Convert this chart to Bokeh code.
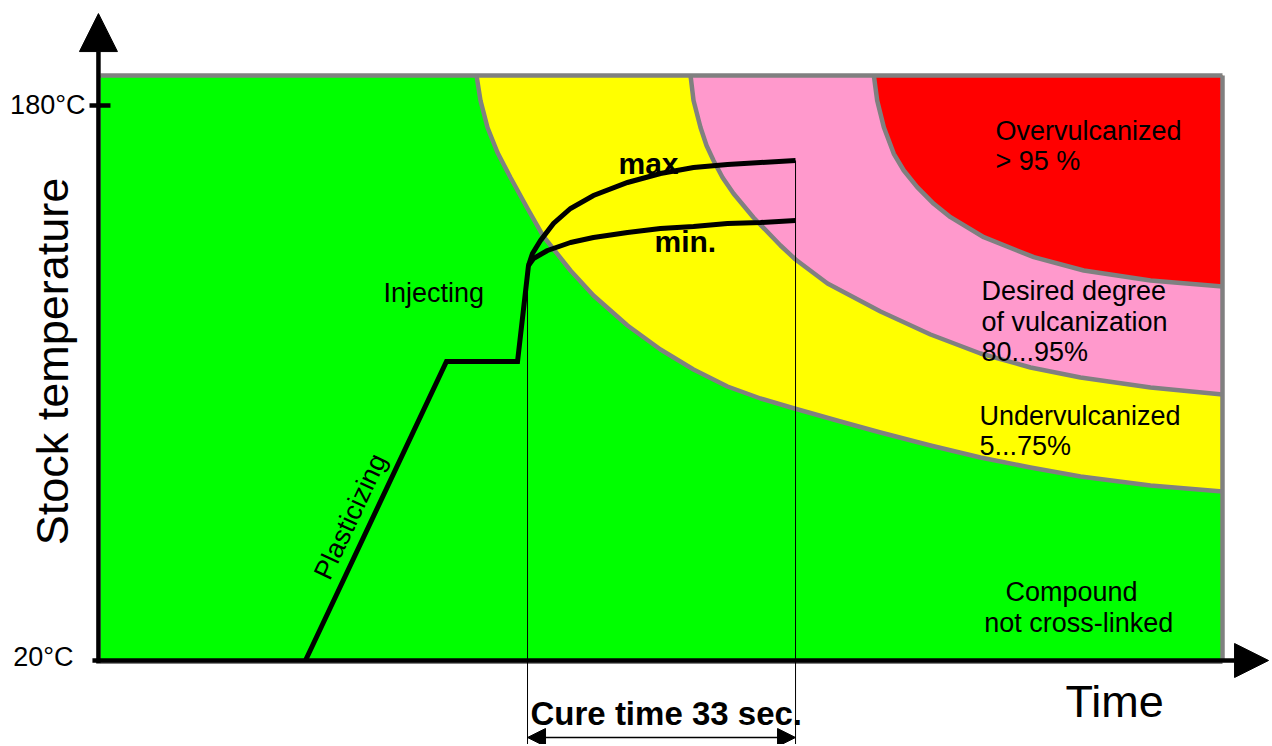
from bokeh.plotting import figure
from bokeh.models import Range1d, Arrow, NormalHead
from bokeh.embed import file_html
from bokeh.resources import INLINE
from bokeh.core.properties import value

# ---------------- data: time in s, stock temperature in degC ----------------
T_LOW = 20
T_HIGH = 180
tick_temps = [20, 180]
tick_labels = ["20°C", "180°C"]
t_end = 138.15      # right edge of the diagram (time)
T_top = 188.65      # top edge of the diagram (temperature)

# boundary: not cross-linked / undervulcanized
under_t = [46.30, 46.79, 47.65, 48.88, 50.48, 52.58, 54.55, 57.87, 60.70, 64.89, 68.95,
           73.02, 77.20, 81.27, 85.45, 91.12, 96.04, 102.20, 108.35, 114.51, 120.67,
           129.29, 138.15]
under_T = [188.65, 181.44, 173.66, 166.45, 159.24, 150.31, 142.23, 132.43, 125.22, 116.58,
           109.66, 103.89, 98.99, 95.53, 92.65, 88.90, 85.73, 81.98, 78.52, 75.64, 73.04,
           70.45, 68.72]
# boundary: undervulcanized / desired degree
desired_t = [72.65, 73.02, 73.88, 74.62, 75.48, 76.59, 77.94, 80.40, 83.73, 85.58, 89.52,
             96.04, 102.20, 108.35, 114.51, 120.67, 129.29, 138.15]
desired_T = [188.65, 181.44, 173.66, 168.47, 164.14, 159.24, 154.63, 147.71, 139.64, 135.60,
             128.68, 120.61, 113.98, 108.50, 104.47, 101.59, 98.70, 96.68]
# boundary: desired degree / overvulcanized
over_t = [95.22, 95.63, 96.45, 97.68, 98.91, 100.56, 102.60, 104.66, 108.76, 114.92,
          121.07, 129.29, 138.15]
over_T = [188.65, 181.44, 173.74, 166.08, 161.26, 156.45, 151.66, 147.80, 142.03, 136.27,
          132.43, 129.55, 127.82]

# process: plasticizing, dwell, injecting
process_t = [25.24, 42.60, 51.35, 52.70]
process_T = [20.0, 106.2, 106.2, 133.87]
# curing, max / min stock temperature
max_t = [52.70, 53.19, 54.18, 55.78, 57.87, 60.70, 64.89, 68.95, 73.02, 77.20, 81.27, 85.58]
max_T = [133.87, 137.33, 141.08, 145.98, 150.31, 154.05, 157.80, 160.40, 162.13, 162.99, 163.57, 164.14]
min_t = [52.70, 53.32, 55.04, 57.87, 60.70, 64.89, 68.95, 73.02, 77.20, 81.27, 85.58]
min_T = [133.87, 135.89, 138.20, 140.50, 141.95, 143.39, 144.54, 145.12, 145.98, 146.27, 146.85]

cure_start = 52.58
cure_time = 33

GREEN, YELLOW, PINK, RED, GREY = "#00FF00", "#FFFF00", "#FF99CC", "#FF0000", "#808080"
FONT = value("Liberation Sans")

p = figure(width=1270, height=744,
           x_range=Range1d(-12.31, 144.06), y_range=Range1d(-4.22, 210.27),
           x_axis_type=None, y_axis_type=None,
           toolbar_location=None, output_backend="svg",
           min_border=0, outline_line_color=None)
p.background_fill_color = "white"
p.border_fill_color = "white"

# zones
p.quad(left=0, right=t_end, bottom=T_LOW, top=T_top, fill_color=GREEN, line_color=None)
p.patch(under_t + [t_end], under_T + [T_top], fill_color=YELLOW, line_color=None)
p.patch(desired_t + [t_end], desired_T + [T_top], fill_color=PINK, line_color=None)
p.patch(over_t + [t_end], over_T + [T_top], fill_color=RED, line_color=None)

# zone borders
for bx, by in [(under_t, under_T), (desired_t, desired_T), (over_t, over_T)]:
    p.line(bx, by, line_color=GREY, line_width=4.5, line_join="round")
p.line([0, t_end], [T_top, T_top], line_color=GREY, line_width=4.5)
p.line([t_end, t_end], [T_top, T_LOW - 0.4], line_color=GREY, line_width=4.5)
p.line([0, t_end], [T_LOW - 0.4, T_LOW - 0.4], line_color=GREY, line_width=4)

# cure time markers
p.segment(x0=[cure_start, cure_start + cure_time], y0=[process_T[-1], max_T[-1]],
          x1=[cure_start, cure_start + cure_time], y1=[-6, -6],
          line_color="black", line_width=1)

# process curve
p.line(process_t + max_t[1:], process_T + max_T[1:], line_color="black", line_width=5,
       line_join="miter")
p.line(min_t, min_T, line_color="black", line_width=5)

# axes with arrows
p.add_layout(Arrow(end=NormalHead(size=38, fill_color="black", line_color="black"),
                   x_start=-0.25, y_start=T_LOW - 0.9, x_end=-0.25, y_end=206.5,
                   line_color="black", line_width=4.5))
p.add_layout(Arrow(end=NormalHead(size=34, fill_color="black", line_color="black"),
                   x_start=-0.99, y_start=T_LOW, x_end=143.82, y_end=T_LOW,
                   line_color="black", line_width=4.5))
p.segment(x0=[-1.35], y0=[T_HIGH], x1=[1.23], y1=[T_HIGH], line_color="black", line_width=4.5)

# cure time double arrow
p.add_layout(Arrow(start=NormalHead(size=18, fill_color="black", line_color="black"),
                   end=NormalHead(size=18, fill_color="black", line_color="black"),
                   x_start=cure_start, y_start=-2.2, x_end=cure_start + cure_time, y_end=-2.2,
                   line_color="black", line_width=1.5))

# tick labels
p.text(x=[-3.32, -1.85], y=tick_temps, text=tick_labels, text_font=FONT,
       text_font_size="27px", text_align="right", text_baseline="middle",
       y_offset=[-3, 0], text_color="black")

# region labels (y = baseline; text drawn centred on middle, shifted up)
p.text(x=[110.2, 110.2, 108.48, 108.48, 108.48, 108.23, 108.23, 111.43, 108.8, 34.85],
       y=[169.9, 161.26, 123.78, 114.99, 106.20, 87.75, 79.10, 37.0, 28.07, 123.21],
       text=["Overvulcanized", "> 95 %", "Desired degree", "of vulcanization", "80...95%",
             "Undervulcanized", "5...75%", "Compound", "not cross-linked", "Injecting"],
       text_font=FONT, text_font_size="27px", text_align="left",
       text_baseline="middle", y_offset=-9.4, text_color="black")

p.text(x=[30.78], y=[61.51], text=["Plasticizing"], angle=1.131, text_font=FONT,
       text_font_size="27px", text_align="center", text_baseline="middle", text_color="black")

p.text(x=[63.78, 68.21], y=[160.40, 137.71], text=["max", "min."], text_font=FONT,
       text_font_size="30px", text_font_style="bold", text_align="left",
       text_baseline="middle", y_offset=-10.4, text_color="black")

p.text(x=[52.95], y=[1.55], text=["Cure time 33 sec."], text_font=FONT,
       text_font_size="33px", text_font_style="bold", text_align="left",
       text_baseline="middle", y_offset=-11.4, text_color="black")

# axis titles
p.text(x=[118.82], y=[3.57], text=["Time"], text_font=FONT, text_font_size="45px",
       text_align="left", text_baseline="middle", y_offset=-15.6, text_color="black")
p.text(x=[-5.86], y=[106.2], text=["Stock temperature"], angle=1.5708, text_font=FONT,
       text_font_size="45px", text_align="center", text_baseline="middle",
       text_color="black")

open("out.html", "w").write(file_html(p, INLINE))
